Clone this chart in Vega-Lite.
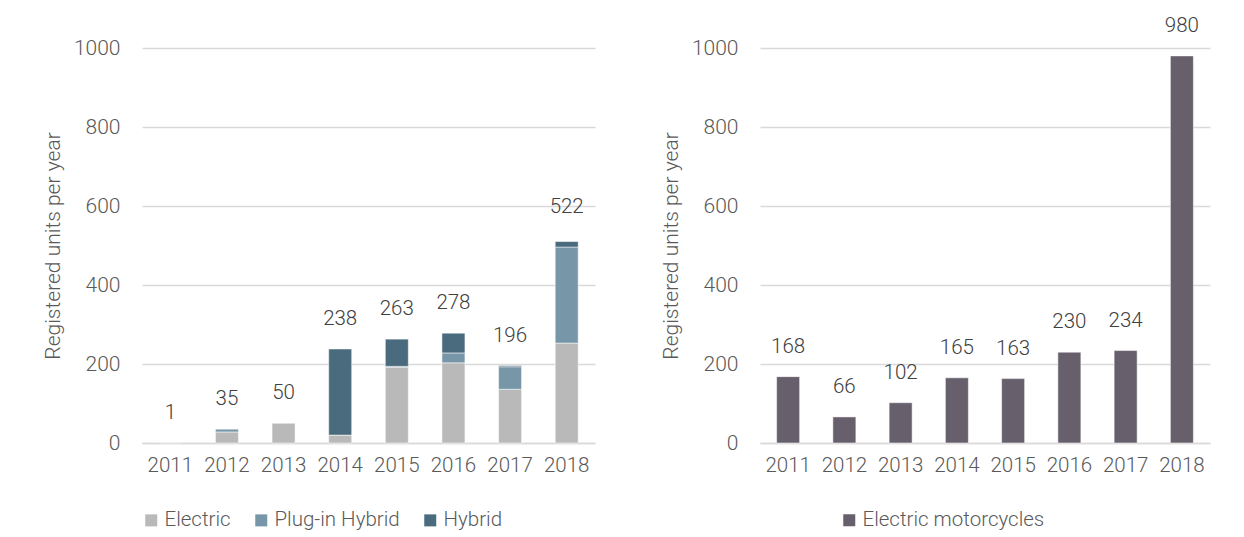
{
  "$schema": "https://vega.github.io/schema/vega-lite/v6.json",
  "padding": {"top": 15, "left": 42, "right": 5, "bottom": 5},
  "background": "white",
  "config": {
    "font": "Roboto",
    "view": {"stroke": null},
    "axis": {"labelFont": "Roboto", "labelFontWeight": 300, "labelColor": "#595959", "titleFont": "Roboto", "titleFontWeight": 300, "titleColor": "#595959"},
    "legend": {"labelFont": "Roboto", "labelFontWeight": 300, "labelColor": "#595959", "labelLimit": 400},
    "concat": {"spacing": 65}
  },
  "datasets": {
    "cars": [
      {"year": "2011", "type": "Electric", "units": 1},
      {"year": "2012", "type": "Electric", "units": 28},
      {"year": "2012", "type": "Plug-in Hybrid", "units": 7},
      {"year": "2013", "type": "Electric", "units": 50},
      {"year": "2014", "type": "Electric", "units": 20},
      {"year": "2014", "type": "Hybrid", "units": 218},
      {"year": "2015", "type": "Electric", "units": 192},
      {"year": "2015", "type": "Plug-in Hybrid", "units": 2},
      {"year": "2015", "type": "Hybrid", "units": 69},
      {"year": "2016", "type": "Electric", "units": 203},
      {"year": "2016", "type": "Plug-in Hybrid", "units": 25},
      {"year": "2016", "type": "Hybrid", "units": 50},
      {"year": "2017", "type": "Electric", "units": 136},
      {"year": "2017", "type": "Plug-in Hybrid", "units": 57},
      {"year": "2017", "type": "Hybrid", "units": 3},
      {"year": "2018", "type": "Electric", "units": 253},
      {"year": "2018", "type": "Plug-in Hybrid", "units": 243},
      {"year": "2018", "type": "Hybrid", "units": 14}
    ],
    "carTotals": [
      {"year": "2011", "total": 1},
      {"year": "2012", "total": 35},
      {"year": "2013", "total": 50},
      {"year": "2014", "total": 238},
      {"year": "2015", "total": 263},
      {"year": "2016", "total": 278},
      {"year": "2017", "total": 196},
      {"year": "2018", "total": 522}
    ],
    "moto": [
      {"year": "2011", "type": "Electric motorcycles", "units": 168},
      {"year": "2012", "type": "Electric motorcycles", "units": 66},
      {"year": "2013", "type": "Electric motorcycles", "units": 102},
      {"year": "2014", "type": "Electric motorcycles", "units": 165},
      {"year": "2015", "type": "Electric motorcycles", "units": 163},
      {"year": "2016", "type": "Electric motorcycles", "units": 230},
      {"year": "2017", "type": "Electric motorcycles", "units": 234},
      {"year": "2018", "type": "Electric motorcycles", "units": 980}
    ]
  },
  "hconcat": [
    {
      "width": 453,
      "height": 395,
      "layer": [
        {
          "data": {"name": "cars"},
          "mark": {"type": "bar", "width": 23, "stroke": "#ffffff", "strokeOpacity": 0.5, "strokeWidth": 1},
          "encoding": {
            "x": {"field": "year", "type": "ordinal", "axis": {"title": null, "labelAngle": 0, "labelFontSize": 20.5, "labelPadding": 12, "ticks": false, "domainColor": "#d9d9d9", "domainWidth": 1.5}},
            "y": {"field": "units", "type": "quantitative", "stack": "zero", "scale": {"domain": [0, 1000]}, "axis": {"title": "Registered units per year", "format": "d", "titleFontSize": 21, "titlePadding": 10, "labelFontSize": 21, "labelPadding": 22, "ticks": false, "domain": false, "values": [0, 200, 400, 600, 800, 1000], "gridColor": "#d9d9d9", "gridWidth": 1.5}},
            "color": {"field": "type", "type": "nominal", "scale": {"domain": ["Electric", "Plug-in Hybrid", "Hybrid"], "range": ["#b9b9b9", "#7797a9", "#4a6b7d"]}, "legend": {"title": null, "orient": "none", "legendX": -1, "legendY": 462, "direction": "horizontal", "symbolType": "square", "symbolSize": 144, "symbolStrokeWidth": 0, "labelFontSize": 20.5, "columnPadding": 20, "labelOffset": 3}},
            "order": {"field": "order", "type": "quantitative"}
          }
        },
        {
          "data": {"name": "carTotals"},
          "mark": {"type": "text", "fontSize": 20.5, "fontWeight": 300, "color": "#404040", "baseline": "middle", "dy": -30},
          "encoding": {
            "x": {"field": "year", "type": "ordinal"},
            "y": {"field": "total", "type": "quantitative"},
            "text": {"field": "total", "type": "quantitative"}
          }
        }
      ]
    },
    {
      "width": 450,
      "height": 395,
      "data": {"name": "moto"},
      "layer": [
        {
          "mark": {"type": "bar", "width": 23, "stroke": "#ffffff", "strokeOpacity": 0.5, "strokeWidth": 1},
          "encoding": {
            "x": {"field": "year", "type": "ordinal", "axis": {"title": null, "labelAngle": 0, "labelFontSize": 20.5, "labelPadding": 12, "ticks": false, "domainColor": "#d9d9d9", "domainWidth": 1.5}},
            "y": {"field": "units", "type": "quantitative", "scale": {"domain": [0, 1000]}, "axis": {"title": "Registered units per year", "format": "d", "titleFontSize": 21, "titlePadding": 10, "labelFontSize": 21, "labelPadding": 22, "ticks": false, "domain": false, "values": [0, 200, 400, 600, 800, 1000], "gridColor": "#d9d9d9", "gridWidth": 1.5}},
            "color": {"field": "type", "type": "nominal", "scale": {"range": ["#675f6b"]}, "legend": {"title": null, "orient": "none", "legendX": 79, "legendY": 462, "direction": "horizontal", "symbolType": "square", "symbolSize": 144, "symbolStrokeWidth": 0, "labelFontSize": 20.5, "labelOffset": 3}}
          }
        },
        {
          "mark": {"type": "text", "fontSize": 20.5, "fontWeight": 300, "color": "#404040", "baseline": "middle", "dy": -30},
          "encoding": {
            "x": {"field": "year", "type": "ordinal"},
            "y": {"field": "units", "type": "quantitative"},
            "text": {"field": "units", "type": "quantitative"}
          }
        }
      ]
    }
  ],
  "resolve": {"scale": {"color": "independent"}}
}
